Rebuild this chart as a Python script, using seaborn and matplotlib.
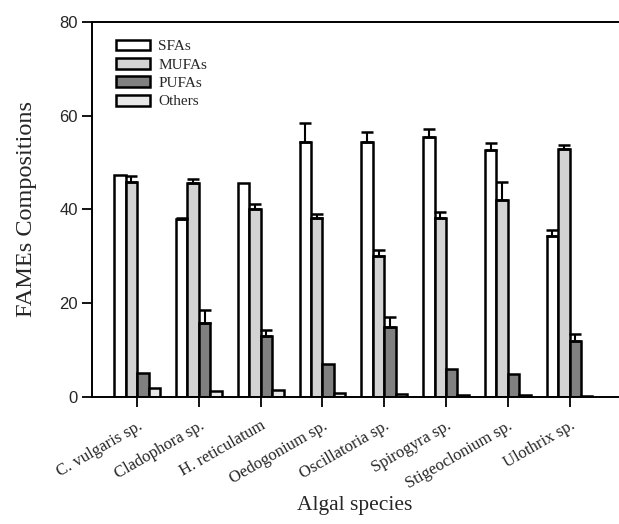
import numpy as np
import pandas as pd
import matplotlib
matplotlib.use("Agg")
import matplotlib.pyplot as plt
import seaborn as sns

species = ['C. vulgaris sp.', 'Cladophora sp.', 'H. reticulatum', 'Oedogonium sp.',
           'Oscillatoria sp.', 'Spirogyra sp.', 'Stigeoclonium sp.', 'Ulothrix sp.']
groups = ['SFAs', 'MUFAs', 'PUFAs', 'Others']

sfa = [47.4, 37.9, 45.7, 54.3, 54.3, 55.4, 52.7, 34.4]
mufa = [45.9, 45.7, 40.0, 38.1, 30.1, 38.1, 42.1, 52.9]
pufa = [5.1, 15.7, 13.0, 7.0, 15.0, 6.0, 5.0, 12.0]
others = [1.9, 1.3, 1.4, 0.8, 0.6, 0.5, 0.4, 0.3]

sfa_err = [0.0, 0.3, 0.0, 4.2, 2.3, 1.7, 1.4, 1.2]
mufa_err = [1.3, 0.7, 1.1, 1.0, 1.2, 1.3, 3.7, 0.8]
pufa_err = [0.0, 2.8, 1.3, 0.0, 2.1, 0.0, 0.0, 1.4]
others_err = [0.0, 0.0, 0.0, 0.0, 0.0, 0.0, 0.0, 0.0]

colors = ['#ffffff', '#d3d3d3', '#808080', '#e8e8e8']

df = pd.DataFrame({
    'species': species * 4,
    'group': np.repeat(groups, len(species)),
    'value': sfa + mufa + pufa + others,
})
errs = [sfa_err, mufa_err, pufa_err, others_err]

sns.set_style('ticks')
plt.rcParams['font.family'] = ['Liberation Serif', 'DejaVu Serif']

fig = plt.figure(figsize=(6.19, 5.24), dpi=100)
ax = fig.add_axes([0.1486, 0.2424, 0.8504, 0.7156])

sns.barplot(data=df, x='species', y='value', hue='group', order=species,
            hue_order=groups, palette=colors, width=0.74, edgecolor='black',
            linewidth=1.8, errorbar=None, ax=ax)

# upward-only error bars on top of each bar
for cont, err in zip(ax.containers, errs):
    for bar, e in zip(cont, err):
        if e > 0:
            xc = bar.get_x() + bar.get_width() / 2
            ax.errorbar(xc, bar.get_height(), yerr=[[0], [e]], fmt='none',
                        ecolor='black', elinewidth=1.5, capsize=4, capthick=1.8)

ax.set_ylim(0, 80)
ax.set_xlim(-0.73, 7.79)
ax.set_yticks([0, 20, 40, 60, 80])
ax.set_yticklabels(['0', '20', '40', '60', '80'], family='Liberation Sans', fontsize=12)
ax.set_xticks(range(len(species)))
ax.set_xticklabels(species, rotation=30, ha='right', rotation_mode='anchor', fontsize=12)
ax.tick_params(axis='both', length=7, width=1.3, color='black', pad=3)
ax.tick_params(axis='x', pad=8)

ax.set_xlabel('Algal species', fontsize=15.5, labelpad=3)
ax.set_ylabel('FAMEs Compositions', fontsize=17.5, labelpad=16)

for s in ['left', 'bottom', 'top']:
    ax.spines[s].set_linewidth(1.4)
    ax.spines[s].set_color('black')
ax.spines['right'].set_visible(False)

ax.legend(frameon=False, loc='upper left', bbox_to_anchor=(0.02, 0.99),
          fontsize=11, handlelength=2.2, handleheight=0.72, labelspacing=0.3,
          handletextpad=0.55)

fig.savefig('out.png', dpi=100)
